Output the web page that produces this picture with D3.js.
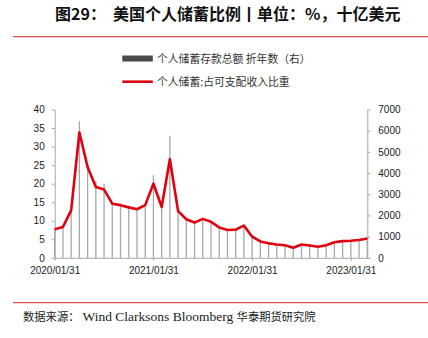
<!DOCTYPE html>
<html>
<head>
<meta charset="utf-8">
<script src="https://cdn.jsdelivr.net/npm/d3@7"></script>
<style>
  html, body { margin: 0; padding: 0; background: #fff; }
  svg { display: block; }
  .tick text { font-family: "Liberation Sans", Arial, sans-serif; font-size: 10px; fill: #222; }
</style>
</head>
<body>
<svg id="chart" width="428" height="338"></svg>
<script>
// Month-end dates (categories)
const months = [
  "2020/01/31","2020/02/29","2020/03/31","2020/04/30","2020/05/31","2020/06/30",
  "2020/07/31","2020/08/31","2020/09/30","2020/10/31","2020/11/30","2020/12/31",
  "2021/01/31","2021/02/28","2021/03/31","2021/04/30","2021/05/31","2021/06/30",
  "2021/07/31","2021/08/31","2021/09/30","2021/10/31","2021/11/30","2021/12/31",
  "2022/01/31","2022/02/28","2022/03/31","2022/04/30","2022/05/31","2022/06/30",
  "2022/07/31","2022/08/31","2022/09/30","2022/10/31","2022/11/30","2022/12/31",
  "2023/01/31","2023/02/28","2023/03/31"
];

// Personal saving, annualized, billions USD (right axis)
const savingAmount = [
  1340, 1500, 2240, 6450, 4400, 3620, 3500, 2560, 2490, 2380, 2290, 2480,
  3900, 2400, 5760, 2200, 1820, 1660, 1840, 1700, 1420, 1300, 1330, 1520,
  1000, 770, 680, 630, 600, 470, 630, 580, 525, 595, 735, 790,
  805, 840, 955
];

// Personal saving as % of disposable income (left axis)
const savingRate = [
  7.7, 8.3, 12.8, 33.8, 24.5, 19.1, 18.4, 14.6, 14.2, 13.6, 13.1, 14.2,
  20.0, 13.7, 26.6, 12.6, 10.4, 9.5, 10.5, 9.7, 8.2, 7.5, 7.6, 8.7,
  5.7, 4.4, 3.9, 3.6, 3.4, 2.7, 3.6, 3.3, 3.0, 3.4, 4.2, 4.5,
  4.6, 4.8, 5.2
];

const leftTicks = [0, 5, 10, 15, 20, 25, 30, 35, 40];
const rightTicks = [0, 1000, 2000, 3000, 4000, 5000, 6000, 7000];
const xLabels = ["2020/01/31", "2021/01/31", "2022/01/31", "2023/01/31"];

const titleLead = "图29：";
const titleMain = "美国个人储蓄比例丨单位：%，十亿美元";
const legendBar = "个人储蓄存款总额 折年数（右）";
const legendLine = "个人储蓄:占可支配收入比重";

const svg = d3.select("#chart");
const cjk = '"Noto Sans CJK SC", "Noto Sans", sans-serif';

const plot = { left: 54.7, right: 367.3, top: 109.5, bottom: 257.8 };

const x = d3.scalePoint().domain(months).range([plot.left, plot.right]);
const yL = d3.scaleLinear().domain([0, 40]).range([plot.bottom, plot.top]);
const yR = d3.scaleLinear().domain([0, 7000]).range([plot.bottom, plot.top]);

// Title
svg.append("text").attr("x", 55).attr("y", 19.5)
  .attr("font-family", cjk).attr("font-weight", 700).attr("font-size", 16)
  .attr("fill", "#111").text(titleLead);
svg.append("text").attr("x", 113).attr("y", 19.5)
  .attr("font-family", cjk).attr("font-weight", 700).attr("font-size", 16)
  .attr("fill", "#111").text(titleMain);

// Red rules
svg.append("line").attr("x1", 13).attr("x2", 428).attr("y1", 36.7).attr("y2", 36.7)
  .attr("stroke", "#d9534f").attr("stroke-width", 1.2);
svg.append("line").attr("x1", 13).attr("x2", 428).attr("y1", 302.7).attr("y2", 302.7)
  .attr("stroke", "#d9534f").attr("stroke-width", 1.2);

// Legend
svg.append("rect").attr("x", 122.3).attr("y", 55.5).attr("width", 30.5).attr("height", 6)
  .attr("fill", "#4a4a4a");
svg.append("text").attr("x", 157).attr("y", 62.5)
  .attr("font-family", cjk).attr("font-size", 10.8).attr("fill", "#333").text(legendBar);
svg.append("line").attr("x1", 122.3).attr("x2", 152.8).attr("y1", 81.7).attr("y2", 81.7)
  .attr("stroke", "#e00012").attr("stroke-width", 2.6);
svg.append("text").attr("x", 157).attr("y", 85.5)
  .attr("font-family", cjk).attr("font-size", 10.8).attr("fill", "#333").text(legendLine);

// Bars (right axis)
svg.append("g").selectAll("rect").data(months).join("rect")
  .attr("x", d => x(d) - 0.65)
  .attr("width", 1.3)
  .attr("y", (d, i) => yR(savingAmount[i]))
  .attr("height", (d, i) => plot.bottom - yR(savingAmount[i]))
  .attr("fill", "#a8a8a8");

// Axes
const axisColor = "#a6a6a6";
function styleAxis(g) {
  g.select(".domain").attr("stroke", axisColor).attr("stroke-width", 1);
  g.selectAll(".tick line").attr("stroke", axisColor);
}

svg.append("g").attr("transform", `translate(${plot.left},0)`)
  .call(d3.axisLeft(yL).tickValues(leftTicks).tickFormat(d3.format("d"))
    .tickSize(3).tickSizeOuter(0).tickPadding(7))
  .call(styleAxis);

svg.append("g").attr("transform", `translate(${plot.right},0)`)
  .call(d3.axisRight(yR).tickValues(rightTicks).tickFormat(d3.format("d"))
    .tickSize(3).tickSizeOuter(0).tickPadding(8))
  .call(styleAxis);

svg.append("g").attr("transform", `translate(0,${plot.bottom})`)
  .call(d3.axisBottom(x).tickValues(xLabels).tickSize(3).tickSizeOuter(0).tickPadding(6))
  .call(styleAxis);

// Saving-rate line (left axis)
const line = d3.line()
  .x((d, i) => x(months[i]))
  .y(d => yL(d))
  .curve(d3.curveLinear);
svg.append("path").datum(savingRate)
  .attr("d", line)
  .attr("fill", "none")
  .attr("stroke", "#e00012")
  .attr("stroke-width", 2.6)
  .attr("stroke-linejoin", "round");

// Source note
const src = svg.append("text").attr("x", 23).attr("y", 320.5).attr("fill", "#222");
src.append("tspan").attr("font-family", cjk).attr("font-size", 11.3).text("数据来源：");
src.append("tspan").attr("font-family", '"Liberation Serif", "Times New Roman", serif')
  .attr("font-size", 13.5).attr("dx", 3).text("Wind Clarksons Bloomberg ");
src.append("tspan").attr("font-family", cjk).attr("font-size", 11.3).text("华泰期货研究院");
</script>
</body>
</html>
